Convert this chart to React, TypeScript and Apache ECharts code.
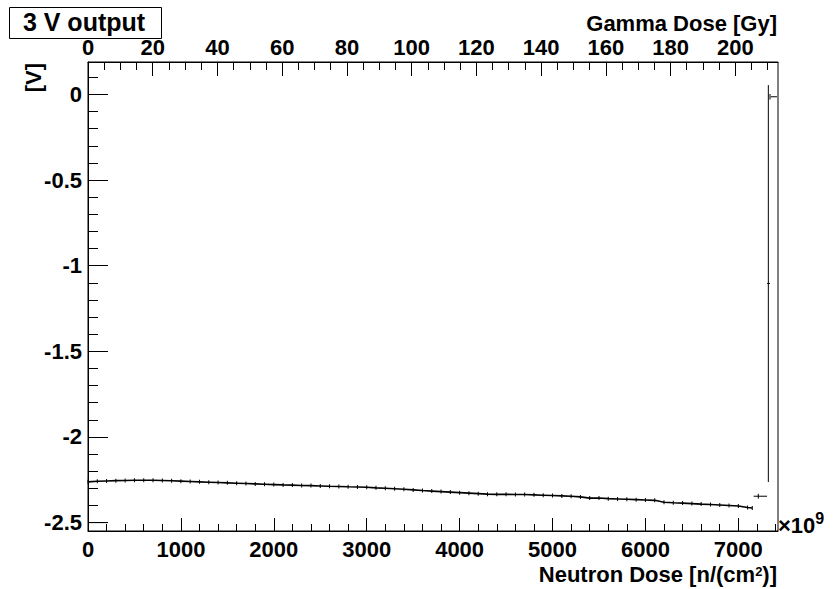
import React, { useEffect, useRef } from "react";
import * as echarts from "echarts";

// Main scan: neutron dose [1e9 n/cm^2] and output voltage [V]
const neutronDose = [
  0, 100, 200, 300, 400, 500, 600, 700, 800, 900,
  1000, 1100, 1200, 1300, 1400, 1500, 1600, 1700, 1800, 1900,
  2000, 2100, 2200, 2300, 2400, 2500, 2600, 2700, 2800, 2900,
  3000, 3100, 3200, 3300, 3400, 3500, 3600, 3700, 3800, 3900,
  4000, 4100, 4200, 4300, 4400, 4500, 4600, 4700, 4800, 4900,
  5000, 5100, 5200, 5300, 5400, 5500, 5600, 5700, 5800, 5900,
  6000, 6100, 6200, 6300, 6400, 6500, 6600, 6700, 6800, 6900,
  7000, 7100, 7150,
];
const voltage = [
  -2.262, -2.259, -2.257, -2.255, -2.254, -2.253, -2.253, -2.253, -2.254, -2.256,
  -2.258, -2.26, -2.262, -2.264, -2.266, -2.268, -2.27, -2.272, -2.274, -2.276,
  -2.278, -2.28, -2.281, -2.283, -2.284, -2.286, -2.288, -2.289, -2.291, -2.292,
  -2.294, -2.297, -2.299, -2.302, -2.305, -2.309, -2.313, -2.316, -2.319, -2.322,
  -2.325, -2.328, -2.331, -2.334, -2.335, -2.335, -2.336, -2.336, -2.338, -2.34,
  -2.342, -2.344, -2.346, -2.35, -2.357, -2.356, -2.36, -2.362, -2.364, -2.366,
  -2.368, -2.37, -2.381, -2.384, -2.386, -2.389, -2.392, -2.394, -2.397, -2.4,
  -2.403, -2.412, -2.415,
];

// Isolated points with error bars
const errX = [100, 7215, 7323, 7341];
const errY = [-2.5, -2.346, -1.104, -0.014];
const errXLo = [0, 7165, 7310, 7349];
const errXHi = [215, 7309, 7340, 7416];
const errYLo = [-2.5, -2.36, -2.263, -0.03];
const errYHi = [-2.5, -2.332, 0.054, 0.002];

// Axis ranges and ticks
const xRange = [0, 7427];
const gammaRange = [0, 213.2];
const yRange = [-2.549, 0.189];
const xMajorTicks = [0, 1000, 2000, 3000, 4000, 5000, 6000, 7000];
const gammaMajorTicks = [0, 20, 40, 60, 80, 100, 120, 140, 160, 180, 200];
const yMajorTicks = [-2.5, -2, -1.5, -1, -0.5, 0];

const steps = (a: number, b: number, s: number) => {
  const out: number[] = [];
  for (let v = a; v <= b + 1e-9; v += s) out.push(Math.round(v * 1000) / 1000);
  return out;
};
const xMinorTicks = steps(0, 7400, 200);
const gammaMinorTicks = steps(0, 210, 5);
const yMinorTicks = steps(-2.5, 0.1, 0.1);

const FONT = "Liberation Sans";

export default function App() {
  const ref = useRef<HTMLDivElement>(null);
  useEffect(() => {
    if (!ref.current) return;
    const chart = echarts.init(ref.current, undefined, { renderer: "svg" });
    const labelStyle = {
      color: "#000",
      fontFamily: FONT,
      fontWeight: "bold" as const,
      fontSize: 22,
      lineHeight: 18,
    };
    const tickStyle = { color: "#000", width: 1 };
    const mainData = neutronDose.map((x, i) => [x, voltage[i]]);
    const errData = errX.map((x, i) => [x, errY[i], errXLo[i], errXHi[i], errYLo[i], errYHi[i]]);

    chart.setOption({
      animation: false,
      backgroundColor: "#fff",
      grid: {
        left: 88,
        right: 55,
        top: 62,
        bottom: 58,
        show: true,
        borderColor: "#000",
        borderWidth: 1,
        backgroundColor: "transparent",
      },
      xAxis: [
        {
          type: "value",
          position: "bottom",
          min: xRange[0],
          max: xRange[1],
          axisLine: { show: true, onZero: false, lineStyle: { color: "#000" } },
          axisTick: { show: true, inside: true, length: 13, customValues: xMajorTicks, lineStyle: tickStyle },
          axisLabel: { ...labelStyle, margin: 9, customValues: xMajorTicks, formatter: (v: number) => String(v) },
          splitLine: { show: false },
        },
        {
          type: "value",
          position: "bottom",
          min: xRange[0],
          max: xRange[1],
          axisLine: { show: false, onZero: false },
          axisTick: { show: true, inside: true, length: 7, customValues: xMinorTicks, lineStyle: tickStyle },
          axisLabel: { show: false },
          splitLine: { show: false },
        },
        {
          type: "value",
          position: "top",
          min: gammaRange[0],
          max: gammaRange[1],
          axisLine: { show: true, onZero: false, lineStyle: { color: "#000" } },
          axisTick: { show: true, inside: true, length: 14, customValues: gammaMajorTicks, lineStyle: tickStyle },
          axisLabel: { ...labelStyle, margin: 6, customValues: gammaMajorTicks, formatter: (v: number) => String(v) },
          splitLine: { show: false },
        },
        {
          type: "value",
          position: "top",
          min: gammaRange[0],
          max: gammaRange[1],
          axisLine: { show: false, onZero: false },
          axisTick: { show: true, inside: true, length: 8, customValues: gammaMinorTicks, lineStyle: tickStyle },
          axisLabel: { show: false },
          splitLine: { show: false },
        },
      ],
      yAxis: [
        {
          type: "value",
          position: "left",
          min: yRange[0],
          max: yRange[1],
          axisLine: { show: true, onZero: false, lineStyle: { color: "#000" } },
          axisTick: { show: true, inside: true, length: 20, customValues: yMajorTicks, lineStyle: tickStyle },
          axisLabel: {
            ...labelStyle,
            margin: 6,
            customValues: yMajorTicks,
            formatter: (v: number) => String(Math.round(v * 10) / 10),
          },
          splitLine: { show: false },
        },
        {
          type: "value",
          position: "left",
          min: yRange[0],
          max: yRange[1],
          axisLine: { show: false, onZero: false },
          axisTick: { show: true, inside: true, length: 10, customValues: yMinorTicks, lineStyle: tickStyle },
          axisLabel: { show: false },
          splitLine: { show: false },
        },
      ],
      series: [
        {
          type: "line",
          xAxisIndex: 0,
          yAxisIndex: 0,
          data: mainData,
          showSymbol: true,
          symbol: "rect",
          symbolSize: [1, 4],
          itemStyle: { color: "#000" },
          lineStyle: { color: "#000", width: 1.6 },
        },
        {
          type: "custom",
          xAxisIndex: 0,
          yAxisIndex: 0,
          data: errData,
          encode: { x: [0, 2, 3], y: [1, 4, 5] },
          renderItem: (_p: any, api: any) => {
            const x = api.value(0);
            const y = api.value(1);
            const pL = api.coord([api.value(2), y]);
            const pR = api.coord([api.value(3), y]);
            const pB = api.coord([x, api.value(4)]);
            const pT = api.coord([x, api.value(5)]);
            return {
              type: "group",
              children: [
                {
                  type: "line",
                  shape: { x1: pL[0], y1: pL[1], x2: pR[0], y2: pR[1] },
                  style: { stroke: "#000", lineWidth: 1 },
                },
                {
                  type: "line",
                  shape: { x1: pB[0], y1: pB[1] + 0.01, x2: pT[0], y2: pT[1] - 0.01 },
                  style: { stroke: "#000", lineWidth: 1 },
                },
              ],
            };
          },
        },
      ],
      graphic: [
        {
          type: "rect",
          shape: { x: 9.5, y: 7.5, width: 152, height: 31 },
          style: { fill: "#fff", stroke: "#000", lineWidth: 1 },
          z: 10,
        },
        {
          type: "text",
          x: 84,
          y: 22,
          z: 11,
          style: {
            text: "3 V output",
            align: "center",
            verticalAlign: "middle",
            fontFamily: FONT,
            fontWeight: "bold",
            fontSize: 25,
            lineHeight: 22,
            fill: "#000",
          },
        },
        {
          type: "text",
          x: 777,
          y: 23,
          style: {
            text: "Gamma Dose [Gy]",
            align: "right",
            verticalAlign: "middle",
            fontFamily: FONT,
            fontWeight: "bold",
            fontSize: 22,
            lineHeight: 18,
            fill: "#000",
          },
        },
        {
          type: "text",
          x: 777,
          y: 574,
          style: {
            text: "Neutron Dose [n/(cm{sup|2})]",
            align: "right",
            verticalAlign: "middle",
            fontFamily: FONT,
            fontWeight: "bold",
            fontSize: 22,
            lineHeight: 18,
            fill: "#000",
            rich: {
              sup: {
                fontFamily: FONT,
                fontWeight: "bold",
                fontSize: 13,
                fill: "#000",
                verticalAlign: "top",
                padding: [0, 0, 12, 0],
              },
            },
          },
        },
        {
          type: "text",
          x: 33,
          y: 63,
          rotation: Math.PI / 2,
          style: {
            text: "[V]",
            align: "right",
            verticalAlign: "middle",
            fontFamily: FONT,
            fontWeight: "bold",
            fontSize: 22,
            fill: "#000",
          },
        },
        {
          type: "text",
          x: 778,
          y: 525,
          style: {
            text: "\u00d710{sup|9}",
            align: "left",
            verticalAlign: "middle",
            fontFamily: FONT,
            fontWeight: "bold",
            fontSize: 22,
            fill: "#000",
            rich: {
              sup: {
                fontFamily: FONT,
                fontWeight: "bold",
                fontSize: 16,
                fill: "#000",
                padding: [0, 0, 14, 0],
              },
            },
          },
        },
      ],
    });
    return () => chart.dispose();
  }, []);
  return (
    <div
      ref={ref}
      style={{ position: "fixed", left: 0, top: 0, width: 833, height: 589, background: "#fff" }}
    />
  );
}
